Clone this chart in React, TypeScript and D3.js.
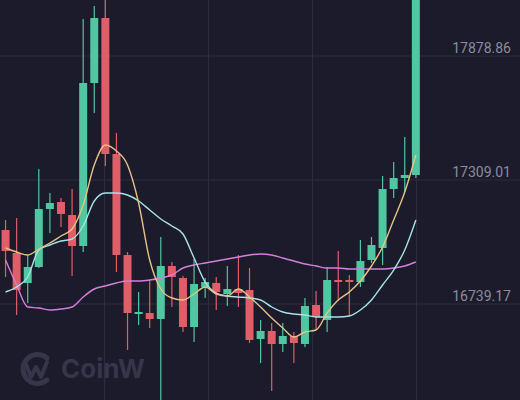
import React from "react";
import * as d3 from "d3";

const priceTicks = [17878.86, 17309.01, 16739.17];

const opens = [17079.2, 16973.5, 16835.6, 16909.2, 17175.7, 17207.9, 17148.1, 17005.7, 17754.8, 18053.5, 17428.5, 16964.3, 16693.2, 16697.8, 16670.2, 16913.8, 16858.6, 16633.5, 16817.3, 16835.6, 16785.1, 16808.1, 16803.5, 16578.4, 16615.1, 16555.4, 16592.1, 16555.4, 16734.6, 16665.6, 16849.4, 16849.4, 16840.2, 16941.3, 16996.5, 17267.6, 17318.2, 17332.0];
const closes = [16982.7, 16803.5, 16909.2, 17175.7, 17203.3, 17152.7, 17005.7, 17754.8, 18053.5, 17428.5, 16964.3, 16697.8, 16702.4, 16670.2, 16913.8, 16863.2, 16633.5, 16831.0, 16840.2, 16794.3, 16808.1, 16789.7, 16573.8, 16615.1, 16555.4, 16592.1, 16560.0, 16730.0, 16679.4, 16849.4, 16840.2, 16840.2, 16936.7, 17010.3, 17267.6, 17318.2, 17332.0, 18228.1];
const highs = [17125.2, 17134.4, 16964.3, 17359.5, 17249.2, 17226.3, 17267.6, 18048.9, 18108.6, 18182.2, 17525.0, 16978.1, 16794.3, 16849.4, 17047.0, 16932.1, 16867.8, 16945.9, 16858.6, 16863.2, 16913.8, 16964.3, 16904.6, 16665.6, 16651.8, 16651.8, 16610.5, 16766.7, 16798.9, 16909.2, 16982.7, 16872.4, 17033.3, 17047.0, 17327.4, 17391.7, 17506.6, 18274.1];
const lows = [16863.2, 16688.6, 16743.7, 16904.6, 17065.4, 17093.0, 16867.8, 16978.1, 17616.9, 17373.3, 16886.2, 16527.8, 16642.7, 16628.9, 16252.0, 16725.4, 16610.5, 16564.6, 16766.7, 16711.6, 16730.0, 16725.4, 16560.0, 16468.1, 16339.4, 16518.6, 16468.1, 16541.6, 16624.3, 16610.5, 16752.9, 16684.0, 16817.3, 16927.5, 16918.3, 17226.3, 17253.8, 17318.2];

const ma5 = [16996.5, 16978.1, 16964.3, 16991.9, 17019.5, 17051.6, 17083.8, 17194.1, 17377.9, 17469.8, 17442.3, 17377.9, 17203.3, 16941.3, 16808.1, 16766.7, 16757.5, 16785.1, 16817.3, 16785.1, 16775.9, 16808.1, 16771.3, 16725.4, 16674.8, 16628.9, 16587.5, 16610.5, 16619.7, 16697.8, 16757.5, 16794.3, 16844.8, 16913.8, 17001.1, 17125.2, 17253.8, 17423.9];
const ma10 = [16794.3, 16817.3, 16863.2, 16987.3, 17010.3, 17028.7, 17037.9, 17097.6, 17212.5, 17249.2, 17249.2, 17240.1, 17212.5, 17171.1, 17129.8, 17097.6, 17060.8, 16950.5, 16840.2, 16789.7, 16775.9, 16771.3, 16766.7, 16757.5, 16725.4, 16702.4, 16693.2, 16688.6, 16679.4, 16679.4, 16679.4, 16684.0, 16711.6, 16757.5, 16826.5, 16895.4, 16987.3, 17125.2];
const ma30 = [16941.3, 16826.5, 16725.4, 16720.8, 16711.6, 16716.2, 16725.4, 16771.3, 16808.1, 16821.9, 16835.6, 16844.8, 16844.8, 16849.4, 16858.6, 16872.4, 16904.6, 16918.3, 16927.5, 16936.7, 16945.9, 16955.1, 16964.3, 16968.9, 16964.3, 16950.5, 16936.7, 16923.0, 16913.8, 16904.6, 16904.6, 16900.0, 16900.0, 16900.0, 16900.0, 16904.6, 16913.8, 16932.1];

const W = 520;
const H = 400;
const BG = "#1c1b2b";
const GREEN = "#4fc7a0";
const RED = "#e15d68";

export default function App() {
  const idx = opens.map((_, i) => i);
  const x = d3.scaleBand<number>().domain(idx).range([0, 421.4]).paddingInner(0.28).paddingOuter(0.14);
  const y = d3.scaleLinear().domain([16739.17, 17878.86]).range([304, 56]);
  const cx = (i: number) => (x(i) as number) + x.bandwidth() / 2;
  const gridX = [104.5, 208.5, 312.5, 416.5];

  const line = d3
    .line<number>()
    .x((_, i) => cx(i))
    .y((d) => y(d))
    .curve(d3.curveMonotoneX);

  return (
    <svg
      width={W}
      height={H}
      style={{ position: "fixed", left: 0, top: 0, display: "block", background: BG }}
    >
      <rect x={0} y={0} width={W} height={H} fill={BG} />
      {priceTicks.map((t) => (
        <line key={"h" + t} x1={0} x2={W} y1={y(t)} y2={y(t)} stroke="#2d2b3e" strokeWidth={1.2} />
      ))}
      {gridX.map((gx) => (
        <line key={"v" + gx} x1={gx} x2={gx} y1={0} y2={H} stroke="#2d2b3e" strokeWidth={1.2} />
      ))}
      {/* watermark */}
      <g opacity={1}>
        <path
          d="M 47 358 A 14.5 14.5 0 1 0 47 380"
          fill="none"
          stroke="#363549"
          strokeWidth={5}
          strokeLinecap="round"
        />
        <path
          d="M 25 362 L 31 377 L 36 367 L 41 377 L 47 362"
          fill="none"
          stroke="#363549"
          strokeWidth={4}
          strokeLinejoin="round"
          strokeLinecap="round"
        />
        <text x={61} y={378} fontFamily="Inter, 'Open Sans', sans-serif" fontWeight={700} fontSize={26} fill="#363549">
          CoinW
        </text>
      </g>
      {idx.map((i) => {
        const up = closes[i] >= opens[i];
        const c = up ? GREEN : RED;
        const top = y(Math.max(opens[i], closes[i]));
        const bot = y(Math.min(opens[i], closes[i]));
        return (
          <g key={"c" + i}>
            <line x1={cx(i)} x2={cx(i)} y1={y(highs[i])} y2={y(lows[i])} stroke={c} strokeWidth={1.2} />
            <rect x={x(i)} y={top} width={x.bandwidth()} height={Math.max(1.5, bot - top)} fill={c} />
          </g>
        );
      })}
      <path d={line(ma30) || ""} fill="none" stroke="#d57fdc" strokeWidth={1.4} />
      <path d={line(ma10) || ""} fill="none" stroke="#a6e4e6" strokeWidth={1.4} />
      <path d={line(ma5) || ""} fill="none" stroke="#e6c286" strokeWidth={1.4} />
      {priceTicks.map((t) => (
        <text
          key={"t" + t}
          x={511}
          y={y(t) - 3}
          textAnchor="end"
          fontFamily="Roboto, 'Noto Sans', sans-serif"
          fontSize={14}
          fill="#8d8c9c"
        >
          {t.toFixed(2)}
        </text>
      ))}
    </svg>
  );
}
